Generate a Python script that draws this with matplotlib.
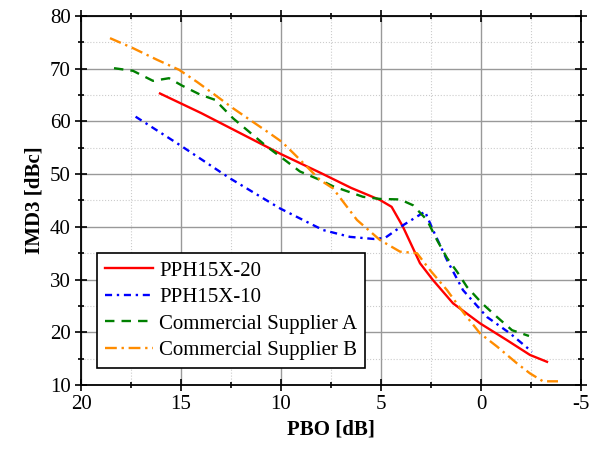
import numpy as np
import matplotlib.pyplot as plt
from matplotlib.ticker import MultipleLocator

plt.rcParams['font.family'] = ['Liberation Serif', 'DejaVu Serif']
plt.rcParams['axes.unicode_minus'] = False

# PPH15X-20
pbo_20 = [16.05, 14.0, 12.0, 10.0, 8.0, 6.5, 5.05, 4.47, 3.9, 3.05, 2.4, 1.4, 0.05, -1.3, -2.45, -3.3]
imd_20 = [65.3, 61.6, 57.7, 53.8, 50.2, 47.4, 45.1, 43.8, 40.0, 33.1, 29.9, 25.5, 21.7, 18.5, 15.7, 14.4]

# PPH15X-10
pbo_10 = [17.27, 15.05, 12.55, 10.05, 7.9, 6.55, 5.35, 4.8, 3.9, 2.8, 2.4, 1.7, 0.9, -0.3, -1.45, -2.55]
imd_10 = [60.9, 55.5, 49.2, 43.5, 39.4, 38.1, 37.7, 37.9, 40.3, 42.9, 39.4, 33.7, 28.0, 22.9, 19.8, 16.3]

# Commercial Supplier A
pbo_a = [18.35, 17.4, 16.4, 15.6, 14.95, 14.05, 13.3, 12.4, 11.55, 10.7, 9.85, 9.05, 8.05, 7.4,
         5.9, 5.05, 4.05, 3.4, 2.7, 2.2, 1.7, 1.2, 0.7, -0.05, -0.8, -1.55, -2.4]
imd_a = [70.1, 69.6, 67.7, 68.2, 66.8, 65.1, 64.1, 60.6, 57.9, 55.2, 52.8, 50.5, 48.9, 47.7,
         45.7, 45.3, 45.2, 44.1, 41.3, 37.5, 34.1, 31.5, 28.6, 25.5, 22.9, 20.4, 19.3]

# Commercial Supplier B
pbo_b = [18.55, 17.4, 16.2, 15.1, 14.2, 13.4, 12.4, 11.4, 10.55, 9.95, 9.2, 8.05, 7.4, 6.2,
         5.05, 4.05, 3.2, 2.55, 1.7, 0.85, 0.05, -0.8, -1.8, -2.45, -3.1, -3.85]
imd_b = [75.8, 73.9, 71.7, 69.8, 67.5, 65.3, 62.5, 59.9, 57.7, 56.1, 53.3, 48.9, 47.3, 41.3,
         37.5, 35.3, 35.0, 31.8, 28.0, 23.6, 19.8, 17.3, 14.1, 12.2, 10.7, 10.7]

fig = plt.figure(figsize=(6.03, 4.51), dpi=100)
ax = fig.add_axes([81 / 603, 1 - 385 / 451, 500 / 603, 369 / 451])

ax.plot(pbo_20, imd_20, color='red', lw=1.7, label='PPH15X-20')
ax.plot(pbo_10, imd_10, color='blue', lw=1.7, dashes=(3, 2, 1, 2), label='PPH15X-10')
ax.plot(pbo_a, imd_a, color='green', lw=1.7, dashes=(4, 3), label='Commercial Supplier A')
ax.plot(pbo_b, imd_b, color='darkorange', lw=1.7, dashes=(5, 2, 1, 2), label='Commercial Supplier B')

ax.set_xlim(20, -5)
ax.set_ylim(10, 80)
ax.xaxis.set_major_locator(MultipleLocator(5))
ax.xaxis.set_minor_locator(MultipleLocator(2.5))
ax.yaxis.set_major_locator(MultipleLocator(10))
ax.yaxis.set_minor_locator(MultipleLocator(5))

ax.grid(which='major', color='#999999', lw=1.0, ls='-')
ax.grid(which='minor', color='#cccccc', lw=0.8, ls=':')
ax.set_axisbelow(True)

ax.tick_params(which='both', direction='inout', top=True, right=True, labelsize=15, width=1.2)
ax.tick_params(which='major', length=8)
ax.tick_params(which='minor', length=5)
for s in ax.spines.values():
    s.set_linewidth(1.3)

ax.set_xlabel('PBO [dB]', fontsize=15, fontweight='bold')
ax.set_ylabel('IMD3 [dBc]', fontsize=15, fontweight='bold')

leg = ax.legend(loc='upper left', bbox_to_anchor=(0.031, 0.3585), fontsize=15,
                fancybox=False, framealpha=1, edgecolor='black', borderaxespad=0,
                handlelength=2.3, handletextpad=0.3, labelspacing=0.33, borderpad=0.4)
leg.get_frame().set_linewidth(1.2)

fig.savefig('out.png', dpi=100)
